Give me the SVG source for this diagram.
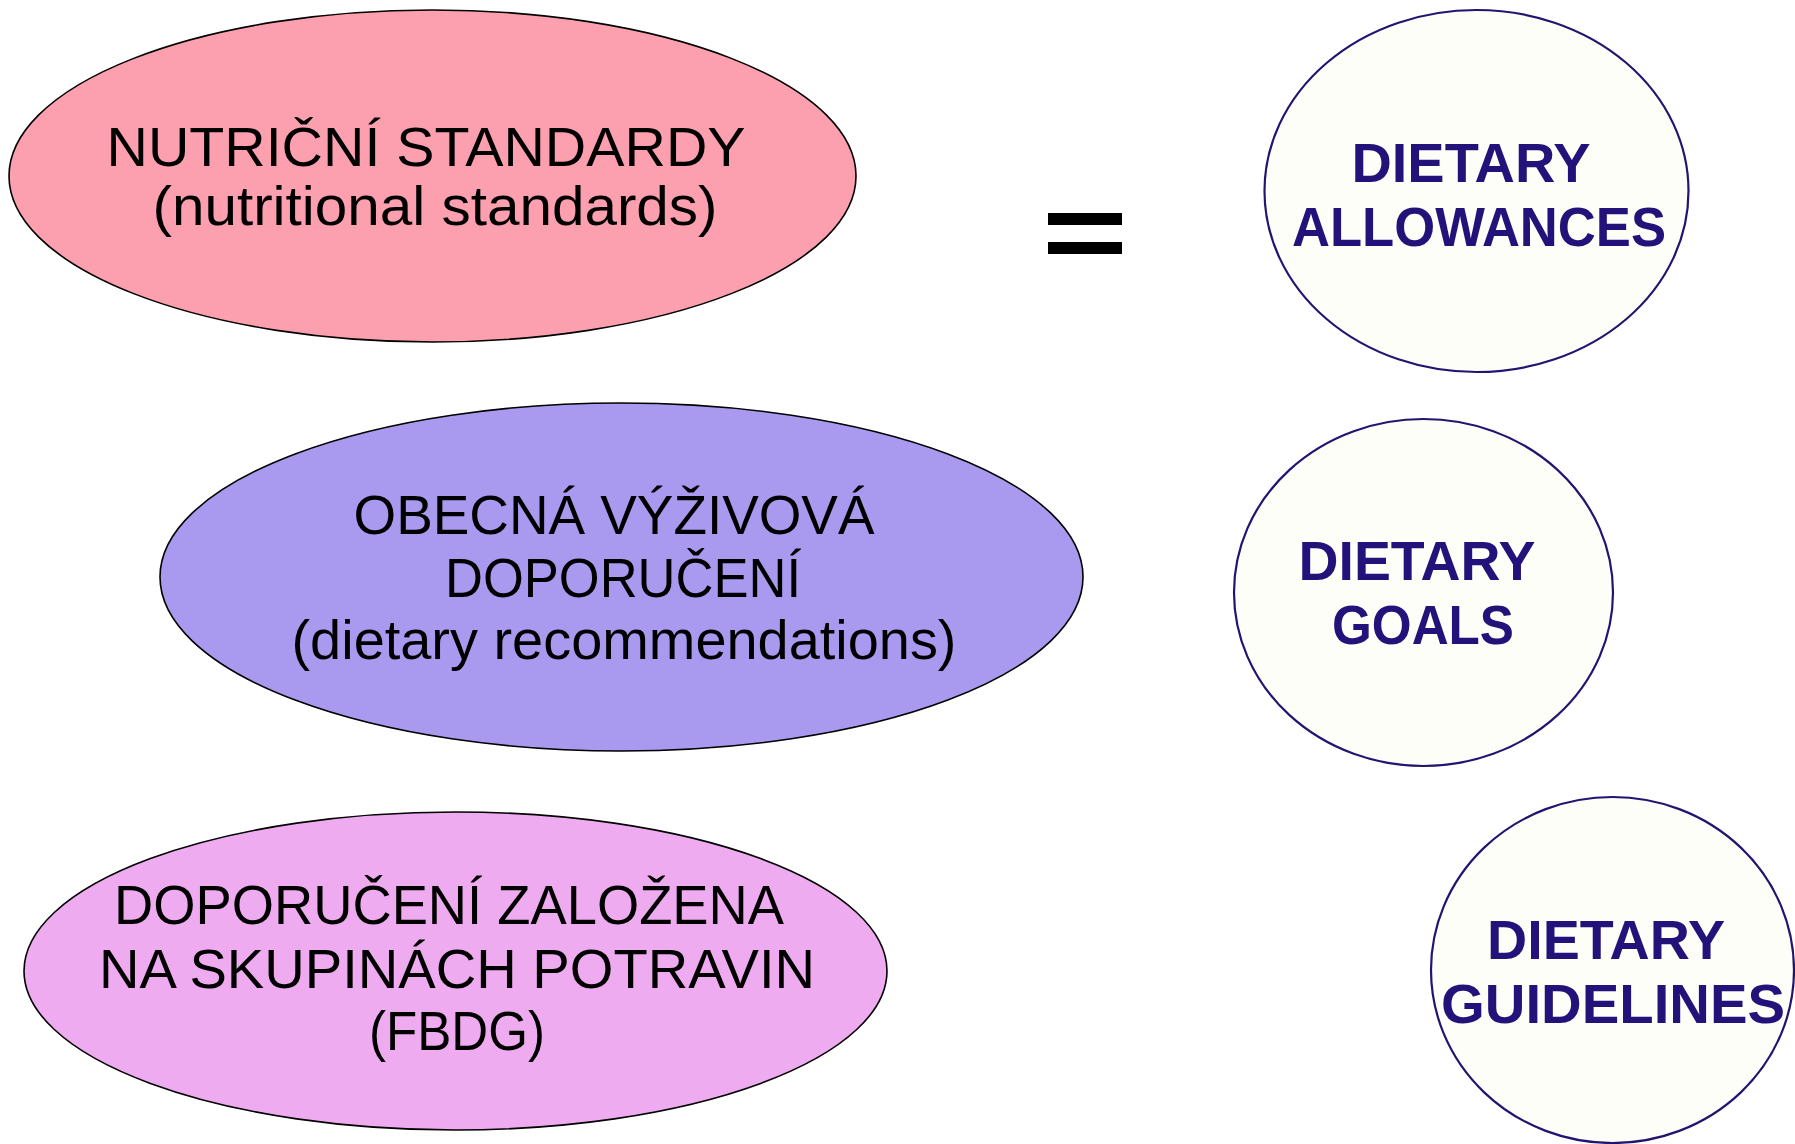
<svg xmlns="http://www.w3.org/2000/svg" width="1795" height="1144" viewBox="0 0 1795 1144">
<style>
.ell{stroke:#000;stroke-width:1.6}
.circ{fill:#FEFEF8;stroke:#221470;stroke-width:2.2}
.blk{font-family:"Liberation Sans",Arial,sans-serif;font-size:56px;fill:#000;text-anchor:middle}
.blu{font-family:"Liberation Sans",Arial,sans-serif;font-size:56px;font-weight:bold;fill:#22127A;text-anchor:middle}
</style>
<rect width="1795" height="1144" fill="#FFFFFF"/>
<g id="nutricni-standardy">
<ellipse class="ell" cx="432.5" cy="176" rx="423.5" ry="166" fill="#FCA0AF"/>
<text class="blk" x="426" y="166" textLength="639" lengthAdjust="spacingAndGlyphs">NUTRIČNÍ STANDARDY</text>
<text class="blk" x="435" y="225" textLength="565" lengthAdjust="spacingAndGlyphs">(nutritional standards)</text>
</g>
<g id="obecna-vyzivova-doporuceni">
<ellipse class="ell" cx="621.5" cy="577" rx="461.5" ry="174" fill="#A99AF0"/>
<text class="blk" x="614" y="534" textLength="521" lengthAdjust="spacingAndGlyphs">OBECNÁ VÝŽIVOVÁ</text>
<text class="blk" x="623" y="597" textLength="356" lengthAdjust="spacingAndGlyphs">DOPORUČENÍ</text>
<text class="blk" x="624" y="659" textLength="665" lengthAdjust="spacingAndGlyphs">(dietary recommendations)</text>
</g>
<g id="fbdg">
<ellipse class="ell" cx="455.5" cy="971" rx="431.5" ry="159" fill="#EEABEF"/>
<text class="blk" x="449" y="924" textLength="670" lengthAdjust="spacingAndGlyphs">DOPORUČENÍ ZALOŽENA</text>
<text class="blk" x="457" y="988" textLength="716" lengthAdjust="spacingAndGlyphs">NA SKUPINÁCH POTRAVIN</text>
<text class="blk" x="457" y="1050" textLength="176" lengthAdjust="spacingAndGlyphs">(FBDG)</text>
</g>
<g id="equals">
<rect x="1048" y="213" width="74" height="12" fill="#000"/>
<rect x="1048" y="242" width="74" height="12" fill="#000"/>
</g>
<g id="dietary-allowances">
<ellipse class="circ" cx="1476.5" cy="191" rx="212" ry="181"/>
<text class="blu" x="1471" y="182" textLength="239" lengthAdjust="spacingAndGlyphs">DIETARY</text>
<text class="blu" x="1479" y="246" textLength="374" lengthAdjust="spacingAndGlyphs">ALLOWANCES</text>
</g>
<g id="dietary-goals">
<ellipse class="circ" cx="1423.5" cy="592.5" rx="189.5" ry="173.5"/>
<text class="blu" x="1417" y="580" textLength="237" lengthAdjust="spacingAndGlyphs">DIETARY</text>
<text class="blu" x="1423" y="644" textLength="182" lengthAdjust="spacingAndGlyphs">GOALS</text>
</g>
<g id="dietary-guidelines">
<ellipse class="circ" cx="1612.5" cy="970" rx="181.5" ry="173"/>
<text class="blu" x="1606" y="959" textLength="238" lengthAdjust="spacingAndGlyphs">DIETARY</text>
<text class="blu" x="1613" y="1023" textLength="344" lengthAdjust="spacingAndGlyphs">GUIDELINES</text>
</g>
<g id="connectors"></g>
</svg>
